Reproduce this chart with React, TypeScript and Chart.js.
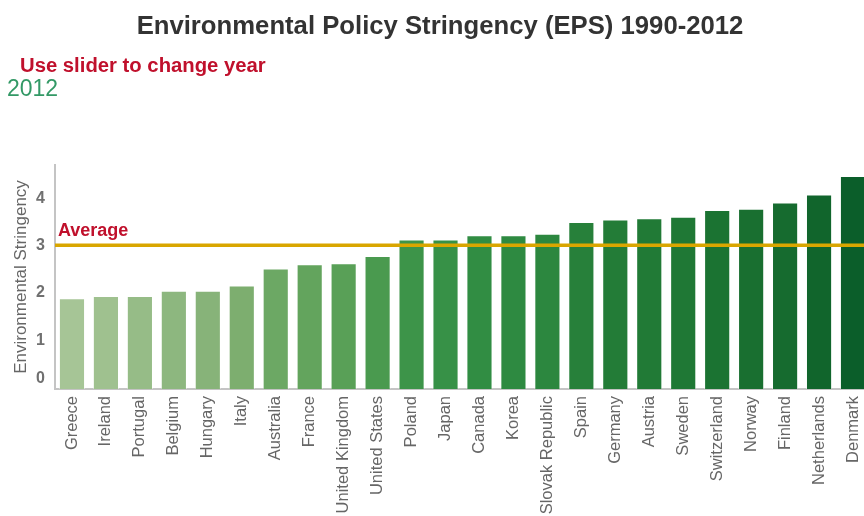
import { useEffect, useRef } from 'react';
import { Chart, registerables } from 'chart.js';

Chart.register(...registerables);

const FONT = '"Liberation Sans", Arial, Helvetica, sans-serif';

const COUNTRIES = [
  'Greece', 'Ireland', 'Portugal', 'Belgium', 'Hungary', 'Italy', 'Australia', 'France',
  'United Kingdom', 'United States', 'Poland', 'Japan', 'Canada', 'Korea', 'Slovak Republic',
  'Spain', 'Germany', 'Austria', 'Sweden', 'Switzerland', 'Norway', 'Finland', 'Netherlands', 'Denmark',
];

// EPS index for 2012
const EPS_2012 = [
  1.91, 1.96, 1.96, 2.07, 2.07, 2.18, 2.54, 2.63,
  2.65, 2.80, 3.15, 3.15, 3.24, 3.24, 3.27,
  3.52, 3.57, 3.60, 3.63, 3.77, 3.80, 3.93, 4.10, 4.49,
];

const AVERAGE = 3.03;
const Y_TICKS = [0, 1, 2, 3, 4];
const Y_MAX = 4.72;

// light-to-dark green ramp, one shade per country
const BAR_COLORS = [
  '#a6c596', '#9fc18f', '#96bc87', '#8db77f', '#87b379', '#7dae6f', '#6ca864', '#63a45d',
  '#59a057', '#4a9a4f', '#3d9449', '#379147', '#318d43', '#2e8a41', '#2c873f',
  '#27803a', '#237c37', '#217a36', '#1f7835', '#1b7332', '#196f30', '#166b2f', '#11652c', '#0b5e2a',
];

const BORDER_COLORS = BAR_COLORS.map(() => 'rgba(255,255,255,0.45)');

const overlayPlugin = {
  id: 'epsOverlay',
  afterDatasetsDraw(chart: any) {
    const { ctx, chartArea, scales } = chart;
    const y = scales.y;
    ctx.save();

    // y tick labels
    ctx.font = `bold 16px ${FONT}`;
    ctx.fillStyle = '#707070';
    ctx.textAlign = 'right';
    ctx.textBaseline = 'middle';
    Y_TICKS.forEach((v) => {
      const py = y.getPixelForValue(v) - (v === 0 ? 10 : 1);
      ctx.fillText(String(v), chartArea.left - 10, py);
    });

    // average line
    const ay = y.getPixelForValue(AVERAGE);
    ctx.strokeStyle = '#d9a600';
    ctx.lineWidth = 3.5;
    ctx.beginPath();
    ctx.moveTo(chartArea.left, ay);
    ctx.lineTo(chart.width, ay);
    ctx.stroke();

    ctx.font = `bold 18px ${FONT}`;
    ctx.fillStyle = '#c0102c';
    ctx.textAlign = 'left';
    ctx.textBaseline = 'alphabetic';
    ctx.fillText('Average', chartArea.left + 3, ay - 9.5);
    ctx.restore();
  },
};

export default function App() {
  const canvasRef = useRef<HTMLCanvasElement | null>(null);

  useEffect(() => {
    if (!canvasRef.current) return;
    const chart = new Chart(canvasRef.current, {
      type: 'bar',
      data: {
        labels: COUNTRIES,
        datasets: [
          {
            label: 'EPS 2012',
            data: EPS_2012,
            backgroundColor: BAR_COLORS,
            borderColor: BORDER_COLORS,
            borderWidth: 1,
            barPercentage: 0.77,
            categoryPercentage: 1,
          },
        ],
      },
      options: {
        animation: false,
        responsive: false,
        maintainAspectRatio: false,
        layout: { padding: { top: 165, right: 9, left: 0, bottom: 0 } },
        plugins: {
          legend: { display: false },
          tooltip: { enabled: false },
          title: { display: false },
        },
        scales: {
          x: {
            grid: { display: false, drawTicks: false },
            border: { display: true, color: '#c4c4c4', width: 2 },
            ticks: {
              autoSkip: false,
              maxRotation: 90,
              minRotation: 90,
              padding: 7,
              color: '#666666',
              font: { family: FONT, size: 16.5 },
            },
            afterFit: (s: any) => {
              s.height = 127;
            },
          },
          y: {
            min: 0,
            max: Y_MAX,
            grid: { display: false, drawTicks: false },
            border: { display: true, color: '#c4c4c4', width: 2 },
            ticks: { display: false, stepSize: 1 },
            title: {
              display: true,
              text: 'Environmental Stringency',
              color: '#666666',
              font: { family: FONT, size: 17 },
              padding: { top: 11, bottom: 0 },
            },
            afterFit: (s: any) => {
              s.width = 55;
            },
          },
        },
      },
      plugins: [overlayPlugin],
    });
    return () => chart.destroy();
  }, []);

  return (
    <div
      style={{
        position: 'fixed',
        left: 0,
        top: 0,
        width: 864,
        height: 516,
        overflow: 'hidden',
        background: '#ffffff',
        fontFamily: FONT,
      }}
    >
      <canvas
        ref={canvasRef}
        width={880}
        height={516}
        style={{ position: 'absolute', left: 0, top: 0, width: 880, height: 516 }}
      />
      <div
        style={{
          position: 'absolute',
          left: 0,
          top: 13,
          width: 880,
          textAlign: 'center',
          fontSize: 25.7,
          lineHeight: '25.7px',
          fontWeight: 'bold',
          color: '#333333',
          whiteSpace: 'nowrap',
        }}
      >
        Environmental Policy Stringency (EPS) 1990-2012
      </div>
      <div
        style={{
          position: 'absolute',
          left: 20,
          top: 55,
          fontSize: 20.3,
          lineHeight: '20.3px',
          fontWeight: 'bold',
          color: '#c0102c',
          whiteSpace: 'nowrap',
        }}
      >
        Use slider to change year
      </div>
      <div
        style={{
          position: 'absolute',
          left: 7,
          top: 77,
          fontSize: 23,
          lineHeight: '23px',
          color: '#339966',
          whiteSpace: 'nowrap',
        }}
      >
        2012
      </div>
    </div>
  );
}
